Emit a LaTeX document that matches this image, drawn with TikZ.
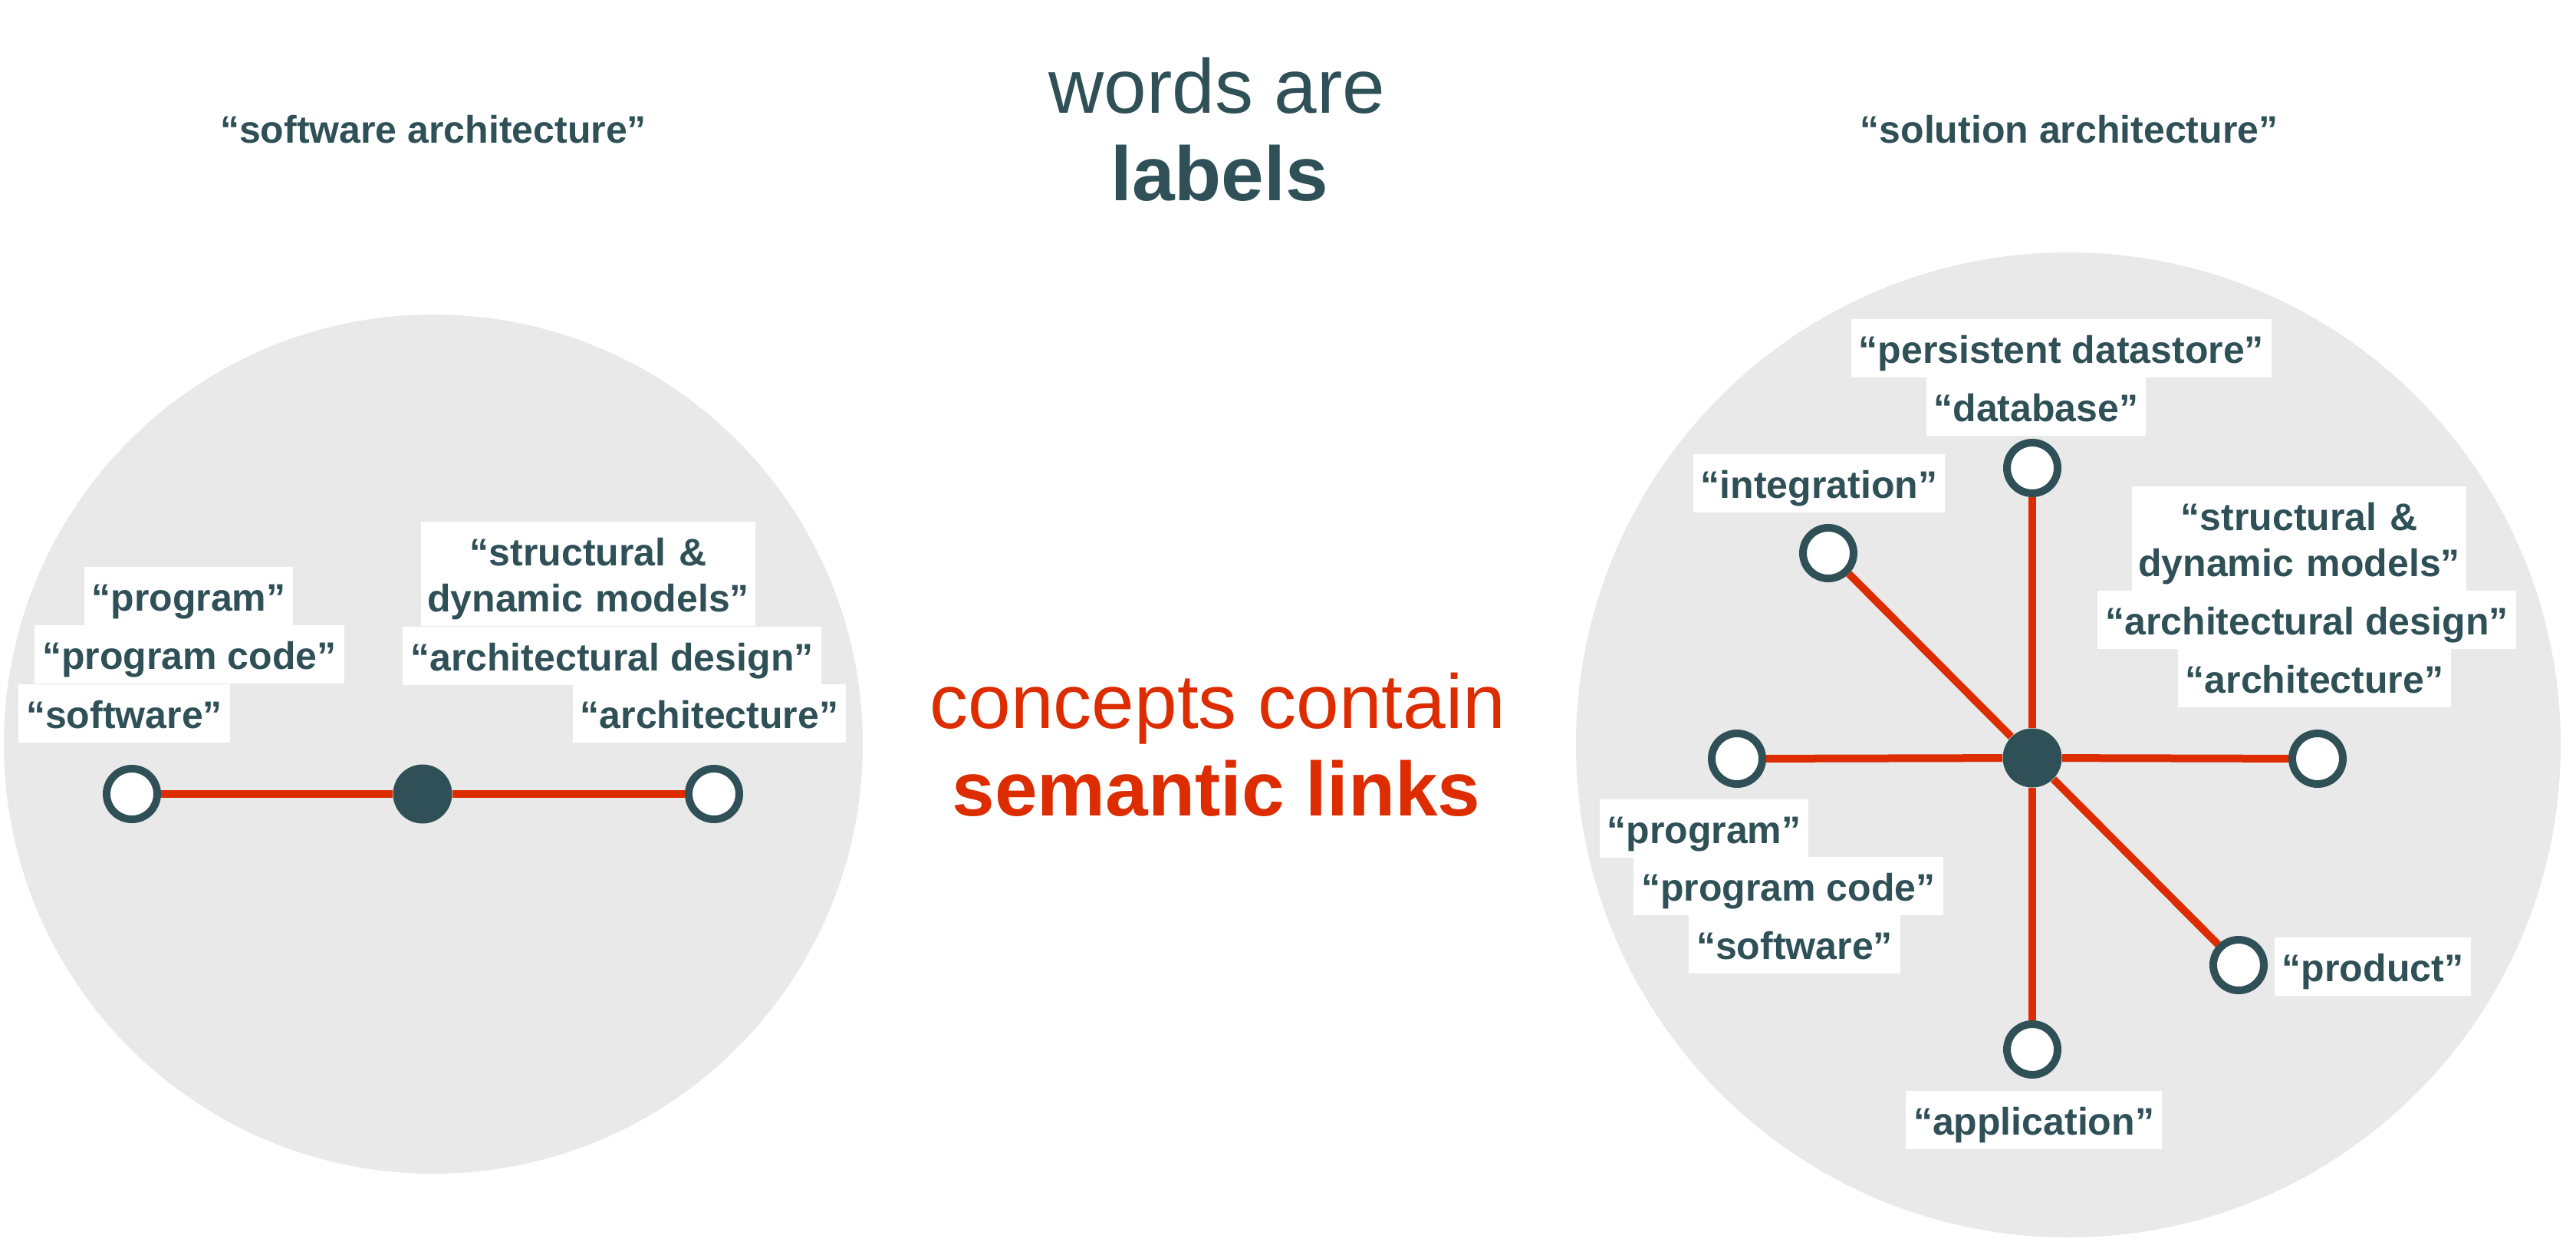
\documentclass[tikz,border=0pt]{standalone}
\usepackage{fontspec}
\setmainfont{Liberation Sans}
\usepackage{tikz}
\tikzset{>=stealth}
\definecolor{slate}{HTML}{2E5056}
\definecolor{linkred}{HTML}{DD2C00}
\definecolor{discgrey}{HTML}{E9E9E9}
\tikzset{
  disc/.style={fill=discgrey},
  leaf/.style={circle, draw=slate, fill=white, line width=0.1cm, minimum size=0.66cm, inner sep=0pt},
  hub/.style={circle, fill=slate, minimum size=0.77cm, inner sep=0pt},
  link/.style={draw=linkred, line width=0.1cm},
  word/.style={fill=white, text=slate, font=\bfseries\fontsize{14.23}{17.07}\selectfont,
    inner xsep=0.1cm, inner ysep=0.15cm, text height=0.42cm, text depth=0.04cm},
  wordtwo/.style={word, align=center, text width=4.2cm, text depth=0.64cm, inner xsep=0.08cm},
  title/.style={text=slate, font=\bfseries\fontsize{14.23}{17.07}\selectfont, anchor=base},
  big/.style={font=\fontsize{28.45}{34}\selectfont, anchor=base},
  bigbold/.style={font=\bfseries\fontsize{28.45}{34}\selectfont, anchor=base}
}

\begin{document}
\begin{tikzpicture}[x=1cm, y=-1cm]
    \useasboundingbox (0,0) rectangle (33.59,16.19);
    \fill [disc] (5.65,9.70) circle (5.60);
    \fill [disc] (26.97,9.71) circle (6.42);

    \node [title] (swtitle) at (5.65,1.86) {“software architecture”};
    \node [title] (soltitle) at (26.98,1.86) {“solution architecture”};
    \node [big, text=slate] (wordsare) at (15.87,1.47) {words are};
    \node [bigbold, text=slate] (labels) at (15.90,2.61) {labels};
    \node [big, text=linkred] (concepts) at (15.88,9.49) {concepts contain};
    \node [bigbold, text=linkred] (semantic) at (15.86,10.63) {semantic links};

    \node [word] (lprog) at (2.46,7.77) {“program”};
    \node [word] (lcode) at (2.47,8.53) {“program code”};
    \node [word] (lsoft) at (1.62,9.30) {“software”};
    \node [wordtwo] (lmodels) at (7.67,7.48) {“structural \&\\dynamic models”};
    \node [word] (ldesign) at (7.98,8.55) {“architectural design”};
    \node [word] (larch) at (9.25,9.30) {“architecture”};

    \node [leaf] (lsoftware) at (1.72,10.35) {};
    \node [hub] (lhub) at (5.51,10.35) {};
    \node [leaf] (larchitecture) at (9.31,10.35) {};
    \draw [link] (lsoftware) -- (lhub);
    \draw [link] (lhub) -- (larchitecture);

    \node [word] (rpersist) at (26.88,4.54) {“persistent datastore”};
    \node [word] (rdata) at (26.55,5.30) {“database”};
    \node [word] (rinteg) at (23.72,6.30) {“integration”};
    \node [wordtwo] (rmodels) at (29.98,7.02) {“structural \&\\dynamic models”};
    \node [word] (rdesign) at (30.08,8.08) {“architectural design”};
    \node [word] (rarch) at (30.18,8.84) {“architecture”};
    \node [word] (rprog) at (22.22,10.80) {“program”};
    \node [word] (rcode) at (23.32,11.55) {“program code”};
    \node [word] (rsoft) at (23.40,12.31) {“software”};
    \node [word] (rprodtext) at (30.94,12.60) {“product”};
    \node [word] (rapp) at (26.52,14.60) {“application”};

    \node [hub] (rhub) at (26.50,9.88) {};
    \node [leaf] (rtop) at (26.50,6.10) {};
    \node [leaf] (rint) at (23.84,7.21) {};
    \node [leaf] (rleft) at (22.65,9.89) {};
    \node [leaf] (rright) at (30.22,9.89) {};
    \node [leaf] (rprod) at (29.19,12.58) {};
    \node [leaf] (rbot) at (26.50,13.68) {};
    \foreach \leafname in {rtop, rint, rleft, rright, rprod, rbot}
        \draw [link] (rhub) -- (\leafname);
\end{tikzpicture}
\end{document}
